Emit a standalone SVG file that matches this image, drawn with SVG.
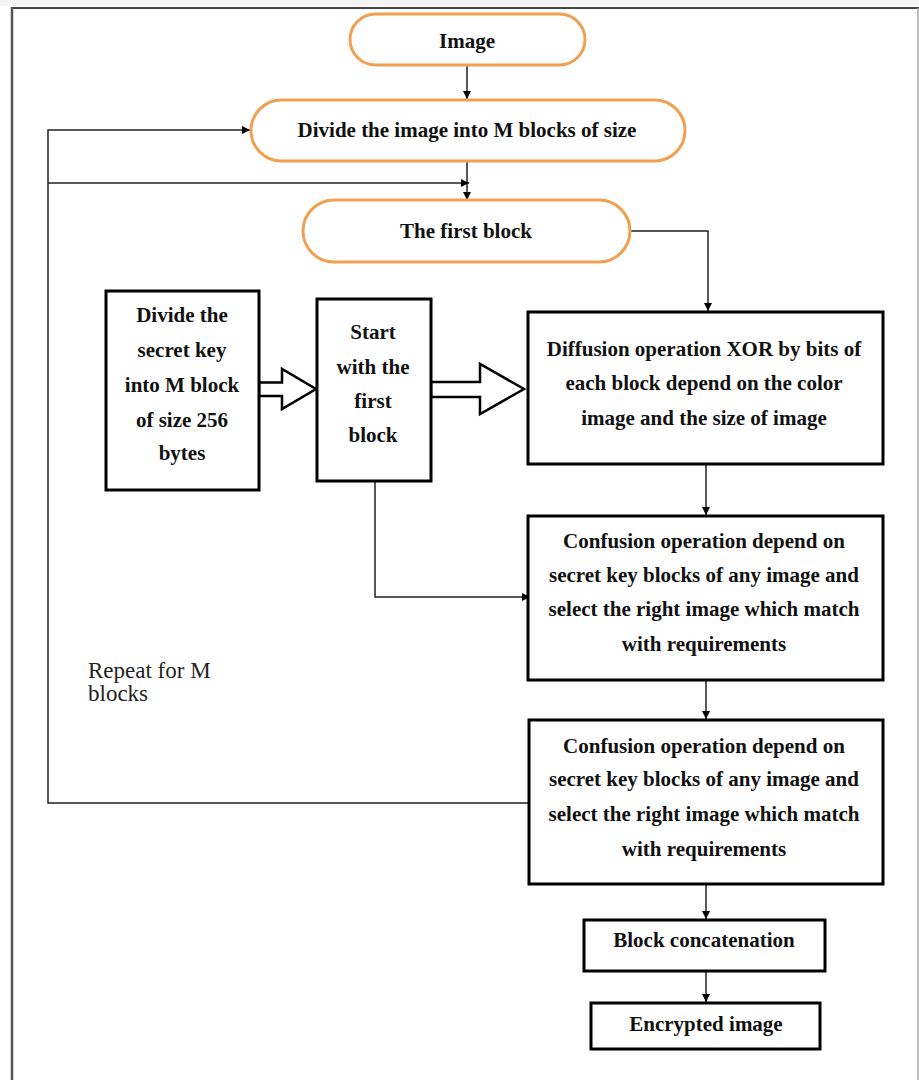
<svg xmlns="http://www.w3.org/2000/svg" width="919" height="1080" viewBox="0 0 919 1080">
<style>
.t{font-family:"Liberation Serif","Times New Roman",serif;font-weight:bold;font-size:21px;fill:#111;text-anchor:middle}
.r{font-family:"Liberation Serif","Times New Roman",serif;font-size:23px;fill:#222}
.oval{fill:#fff;stroke:#F0A050;stroke-width:3}
.box{fill:#fff;stroke:#000;stroke-width:3}
.ln{fill:none;stroke:#222;stroke-width:1.5}
.blk{fill:#fff;stroke:#000;stroke-width:2.5;stroke-linejoin:miter}
</style>
<defs>
<marker id="ah" viewBox="0 0 10 10" refX="10" refY="5" markerWidth="8" markerHeight="8" markerUnits="userSpaceOnUse" orient="auto"><path d="M0,0 L10,5 L0,10 z" fill="#000"/></marker>
</defs>
<rect width="919" height="1080" fill="#fff"/>
<rect x="0" y="0" width="919" height="6" fill="#f4f4f4"/>
<line x1="11" y1="8" x2="919" y2="8" stroke="#444" stroke-width="2"/>
<line x1="12" y1="7" x2="12" y2="1080" stroke="#555" stroke-width="2.5"/>
<line x1="918" y1="8" x2="918" y2="1080" stroke="#aaa" stroke-width="1.5"/>

<g id="connectors">
<line class="ln" x1="467" y1="65" x2="467" y2="99" marker-end="url(#ah)"/>
<line class="ln" x1="467" y1="161" x2="467" y2="200" marker-end="url(#ah)"/>
<polyline class="ln" points="528,803 48,803 48,130 250,130" marker-end="url(#ah)"/>
<line class="ln" x1="48" y1="183" x2="469" y2="183" marker-end="url(#ah)"/>
<polyline class="ln" points="630,231 708,231 708,311" marker-end="url(#ah)"/>
<polyline class="ln" points="375,481 375,597 530,597" marker-end="url(#ah)"/>
<line class="ln" x1="706" y1="464" x2="706" y2="515" marker-end="url(#ah)"/>
<line class="ln" x1="706" y1="680" x2="706" y2="719" marker-end="url(#ah)"/>
<line class="ln" x1="706" y1="884" x2="706" y2="919" marker-end="url(#ah)"/>
<line class="ln" x1="706" y1="971" x2="706" y2="1002" marker-end="url(#ah)"/>
<polygon class="blk" points="259,382.5 282,382.5 282,369 316,389 282,409 282,396 259,396"/>
<polygon class="blk" points="431,382 480,382 480,364 524,389 480,414 480,397 431,397"/>
</g>

<g id="n-image">
<rect class="oval" x="350" y="14" width="235" height="51" rx="25.5"/>
<text class="t" x="467" y="48">Image</text>
</g>
<g id="n-divide">
<rect class="oval" x="251" y="100" width="434" height="61" rx="30.5"/>
<text class="t" x="467" y="137">Divide the image into M blocks of size</text>
</g>
<g id="n-first">
<rect class="oval" x="303" y="200" width="327" height="62" rx="31"/>
<text class="t" x="466" y="238">The first block</text>
</g>
<g id="n-key">
<rect class="box" x="106" y="291" width="153" height="199"/>
<text class="t" x="182" y="322">Divide the</text>
<text class="t" x="182" y="357">secret key</text>
<text class="t" x="182" y="392">into M block</text>
<text class="t" x="182" y="427">of size 256</text>
<text class="t" x="182" y="460">bytes</text>
</g>
<g id="n-start">
<rect class="box" x="317" y="299" width="114" height="182"/>
<text class="t" x="373" y="339">Start</text>
<text class="t" x="373" y="374">with the</text>
<text class="t" x="373" y="408">first</text>
<text class="t" x="373" y="442">block</text>
</g>
<g id="n-diffusion">
<rect class="box" x="528" y="312" width="355" height="152"/>
<text class="t" x="704" y="356">Diffusion operation XOR by bits of</text>
<text class="t" x="704" y="390">each block depend on the color</text>
<text class="t" x="704" y="425">image and the size of image</text>
</g>
<g id="n-confusion1">
<rect class="box" x="528" y="516" width="355" height="164"/>
<text class="t" x="704" y="548">Confusion operation depend on</text>
<text class="t" x="704" y="582">secret key blocks of any image and</text>
<text class="t" x="704" y="616">select the right image which match</text>
<text class="t" x="704" y="651">with requirements</text>
</g>
<g id="n-confusion2">
<rect class="box" x="529" y="720" width="354" height="164"/>
<text class="t" x="704" y="753">Confusion operation depend on</text>
<text class="t" x="704" y="786">secret key blocks of any image and</text>
<text class="t" x="704" y="821">select the right image which match</text>
<text class="t" x="704" y="856">with requirements</text>
</g>
<g id="n-concat">
<rect class="box" x="584" y="920" width="241" height="51"/>
<text class="t" x="704" y="947">Block concatenation</text>
</g>
<g id="n-encrypted">
<rect class="box" x="591" y="1003" width="229" height="46"/>
<text class="t" x="706" y="1031">Encrypted image</text>
</g>
<g id="label-repeat">
<text class="r" x="88" y="678">Repeat for M</text>
<text class="r" x="88" y="701">blocks</text>
</g>
</svg>
